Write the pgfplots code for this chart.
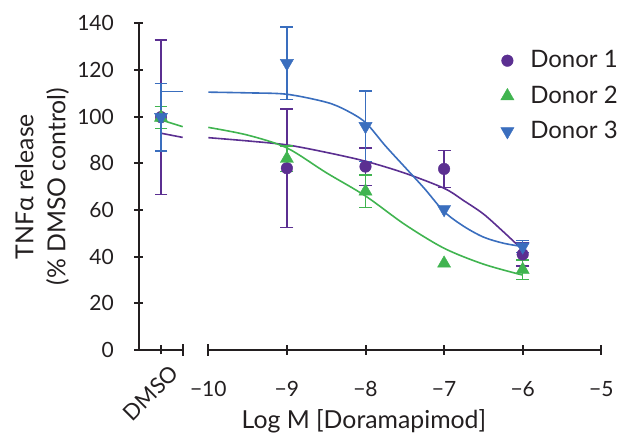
\documentclass[border=0pt]{standalone}
\usepackage{fontspec}
\setmainfont{Lato}
\usepackage{pgfplots}
\usepackage{pgfplotstable}
\pgfplotsset{compat=1.18}

\definecolor{dpurple}{RGB}{91,47,145}
\definecolor{dgreen}{RGB}{64,180,80}
\definecolor{dblue}{RGB}{58,110,190}
\definecolor{axisgray}{RGB}{35,31,32}

% DMSO control (left segment)
\pgfplotstableread{
x y e
0 99.8 33.1
}\dmsoA
\pgfplotstableread{
x y e
0 99.6 4.7
}\dmsoB
\pgfplotstableread{
x y e
0 99.8 14.5
}\dmsoC

% dose points, Log M
\pgfplotstableread{
x y e
-9 77.9 25.3
-8 78.6 8.0
-7 77.6 7.9
-6 41.0 5.0
}\donA
\pgfplotstableread{
x y e
-9 82.0 5.5
-8 68.0 7.0
-6 34.4 4.2
}\donB
\pgfplotstableread{
x y e
-9 122.9 15.5
-8 95.9 15.2
-6 44.3 2.6
}\donC

% fitted curves
\pgfplotstableread{
x y
-10 91.0
-9.5 89.6
-9 87.9
-8.5 84.7
-8 80.9
-7.5 75.8
-7 69.3
-6.75 64.0
-6.5 58.3
-6.25 50.8
-6 42.9
}\fitA
\pgfplotstableread{
x y
-10 95.4
-9.5 92.1
-9 86.6
-8.5 76.0
-8 66.0
-7.5 53.8
-7 43.6
-6.5 36.8
-6 32.1
}\fitB
\pgfplotstableread{
x y
-10 110.5
-9.5 110.2
-9 109.6
-8.5 106.2
-8.25 102.8
-8 97.5
-7.75 87.6
-7.5 78.4
-7.25 69.2
-7 59.3
-6.75 53.0
-6.5 48.4
-6.25 45.8
-6 44.3
}\fitC

\pgfplotsset{
  brk/.style={
    x=39.3pt, y=1.1667pt,
    ymin=0, ymax=140,
    clip=false,
    axis line style={line width=1pt, color=axisgray, -},
    tick style={line width=1pt, color=axisgray},
    tick align=outside,
    major tick length=4.5pt,
    tick label style={font=\fontsize{10.5}{12}\selectfont, text=axisgray},
    /pgf/number format/assume math mode=true,
  },
  errpts/.style={only marks,
    error bars/.cd, y dir=both, y explicit, error mark=-,
    error mark options={rotate=90, mark size=3.2pt, line width=0.75pt, #1},
    error bar style={line width=0.75pt, #1}},
  fitline/.style={no marks, smooth, line width=0.8pt, #1},
  mA/.style={mark=*, mark size=2.9pt, mark options={fill=dpurple, draw=dpurple, line width=0.2pt}},
  mB/.style={mark=triangle*, mark size=3.8pt, mark options={fill=dgreen, draw=dgreen, line width=0.2pt}},
  mC/.style={mark=triangle*, mark size=3.8pt, mark options={fill=dblue, draw=dblue, line width=0.2pt, rotate=180}},
}

\begin{document}
\begin{tikzpicture}
\useasboundingbox (-69.5pt,-42pt) rectangle (250pt,175pt);

% left segment: DMSO
\begin{axis}[brk,
    at={(0pt,0pt)}, anchor=south west,
    xmin=-0.28, xmax=0.276,
    axis x line=bottom, axis y line=left,
    axis line style={line width=1pt, color=axisgray, -},
    xtick={0}, xticklabels={DMSO},
    xticklabel style={font=\fontsize{11}{12}\selectfont, rotate=45, anchor=east,
      inner sep=0pt, xshift=-0.3pt, yshift=-10.1pt},
    ytick={0,20,...,140},
    yticklabel style={xshift=-6.8pt},
    ylabel={TNFα release\\(\% DMSO control)},
    ylabel style={align=center, font=\fontsize{12.4}{16}\selectfont, text=axisgray,
      at={(axis description cs:-2.215,0.5)}, anchor=center},
]
\addplot[fitline=dpurple] table {
x y
0 92.9
0.276 91.1
};
\addplot[fitline=dgreen] table {
x y
0 98.6
0.276 95.7
};
\addplot[fitline=dblue] table {
x y
0 110.7
0.276 110.7
};
\addplot[mA, errpts=dpurple] table[x=x, y=y, y error=e] {\dmsoA};
\addplot[mB, errpts=dgreen] table[x=x, y=y, y error=e] {\dmsoB};
\addplot[mC, errpts=dblue] table[x=x, y=y, y error=e] {\dmsoC};
\draw[line width=1pt, color=axisgray] ([yshift=-3pt]axis cs:0.276,0) -- ([yshift=3pt]axis cs:0.276,0);
\end{axis}

% right segment: Log M
\begin{axis}[brk,
    at={(34.65pt,0pt)}, anchor=south west,
    xmin=-10, xmax=-5,
    axis x line=bottom, axis y line=none,
    axis line style={line width=1pt, color=axisgray, -},
    xtick={-10,-9,-8,-7,-6,-5},
    xticklabels={−10,−9,−8,−7,−6,−5},
    xticklabel style={yshift=-9.7pt},
    xlabel={Log M [Doramapimod]},
    xlabel style={font=\fontsize{12.4}{14}\selectfont, text=axisgray,
      at={(axis description cs:0.396,0)}, anchor=base, yshift=-39pt},
    legend style={draw=none, fill=none, at={(axis description cs:0.7433,0.930)},
      anchor=north west, inner sep=0pt, row sep=3.5pt, column sep=6.15pt,
      font=\fontsize{12}{14}\selectfont, text=axisgray},
    legend cell align=left,
]
\addplot[fitline=dpurple, forget plot] table {\fitA};
\addplot[fitline=dgreen, forget plot] table {\fitB};
\addplot[fitline=dblue, forget plot] table {\fitC};
\addplot[mA, errpts=dpurple] table[x=x, y=y, y error=e] {\donA};
\addlegendentry{Donor 1}
\addplot[mB, errpts=dgreen] table[x=x, y=y, y error=e] {\donB};
\addlegendentry{Donor 2}
\addplot[mC, errpts=dblue] table[x=x, y=y, y error=e] {\donC};
\addlegendentry{Donor 3}
% -7 points carry no visible error bars
\addplot[mB, only marks, forget plot] coordinates {(-7,37.1)};
\addplot[mC, only marks, forget plot] coordinates {(-7,60.3)};
\draw[line width=1pt, color=axisgray] ([yshift=-3pt]axis cs:-10,0) -- ([yshift=3pt]axis cs:-10,0);
\end{axis}
\end{tikzpicture}
\end{document}
